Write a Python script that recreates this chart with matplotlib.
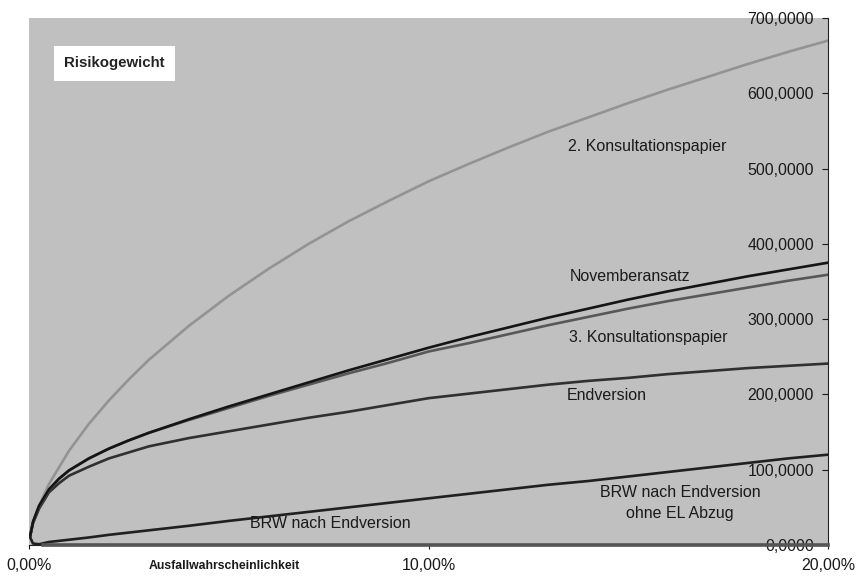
import matplotlib.pyplot as plt
from matplotlib.ticker import FuncFormatter, MultipleLocator

plt.rcParams['font.family'] = ['Liberation Sans', 'DejaVu Sans']

# Ausfallwahrscheinlichkeit in Prozent
pd_pct = [0.03, 0.1, 0.25, 0.5, 0.75, 1, 1.5, 2, 2.5, 3, 4, 5, 6, 7, 8, 9,
          10, 11, 12, 13, 14, 15, 16, 17, 18, 19, 20]

kp2 = [14, 29, 52, 81, 103, 125, 161, 192, 220, 246, 291, 331, 367, 400, 430, 457,
       483, 506, 528, 549, 568, 587, 605, 622, 639, 655, 670]
november = [12, 31, 52, 74, 88, 99, 115, 128, 139, 149, 167, 184, 200, 216, 232, 247,
            262, 276, 289, 302, 314, 326, 337, 347, 357, 366, 375]
kp3 = [12, 30, 50, 73, 88, 99, 115, 128, 139, 149, 166, 182, 198, 213, 228, 242,
       257, 268, 280, 292, 303, 314, 324, 333, 342, 351, 359]
endversion = [12, 29, 48, 70, 82, 92, 104, 115, 123, 131, 142, 151, 160, 169, 177, 186,
              195, 201, 207, 213, 218, 222, 227, 231, 235, 238, 241]
brw_el = [10, 2, 1, 4, 5.5, 7, 10, 13.5, 16.5, 19.5, 25.5, 32, 38, 44, 50, 56,
          62, 68, 74, 80, 85, 91, 97, 103, 109, 115, 120]
null_pd = [0.35, 20]
null_val = [0, 0]

x = [p / 100 for p in pd_pct]

fig = plt.figure(figsize=(8.61, 5.79), dpi=100)
ax = fig.add_axes([29 / 861, 34 / 579, 799 / 861, 527 / 579])
ax.set_facecolor('#c0c0c0')

ax.plot(x, kp2, color='#939393', lw=1.9)
ax.plot(x, endversion, color='#303030', lw=1.9)
ax.plot(x, kp3, color='#585858', lw=1.9)
ax.plot(x, november, color='#151515', lw=1.9)
ax.plot(x, brw_el, color='#202020', lw=1.9)
ax.plot([p / 100 for p in null_pd], null_val, color='#555555', lw=2.6, clip_on=False, zorder=5)

ax.set_xlim(0, 0.2)
ax.set_ylim(0, 700)

for s in ['top', 'left']:
    ax.spines[s].set_visible(False)
ax.spines['right'].set_color('#222222')
ax.spines['bottom'].set_color('#222222')

ax.xaxis.set_major_locator(MultipleLocator(0.1))
ax.xaxis.set_major_formatter(FuncFormatter(lambda v, p: f"{v*100:.2f}%".replace('.', ',')))
ax.tick_params(axis='x', direction='out', length=3, pad=6, labelsize=11.5, colors='#1a1a1a')

ax.yaxis.tick_right()
ax.yaxis.set_major_locator(MultipleLocator(100))
ax.yaxis.set_major_formatter(FuncFormatter(lambda v, p: f"{v:.4f}".replace('.', ',')))
ax.tick_params(axis='y', direction='in', length=4, pad=-10, labelsize=11.5, colors='#1a1a1a')
for lab in ax.get_yticklabels():
    lab.set_horizontalalignment('right')

ax.text(0.044, 0.914, 'Risikogewicht', transform=ax.transAxes, fontsize=10.8,
        fontweight='bold', color='#222222', va='center', ha='left',
        bbox=dict(boxstyle='square,pad=0.7', facecolor='white', edgecolor='none'))

fig.text(224 / 861, 1 - 566 / 579, 'Ausfallwahrscheinlichkeit', fontsize=8.8,
         fontweight='bold', ha='center', va='center', color='#1a1a1a')

lab_kw = dict(fontsize=11.5, ha='center', va='center', color='#1a1a1a')
ax.text(0.1547, 529, '2. Konsultationspapier', **lab_kw)
ax.text(0.1505, 357, 'Novemberansatz', **lab_kw)
ax.text(0.1550, 275, '3. Konsultationspapier', **lab_kw)
ax.text(0.1447, 198, 'Endversion', **lab_kw)
ax.text(0.1630, 70, 'BRW nach Endversion', **lab_kw)
ax.text(0.1630, 42, 'ohne EL Abzug', **lab_kw)
ax.text(0.0754, 28, 'BRW nach Endversion', **lab_kw)

fig.savefig('out.png', dpi=100)
